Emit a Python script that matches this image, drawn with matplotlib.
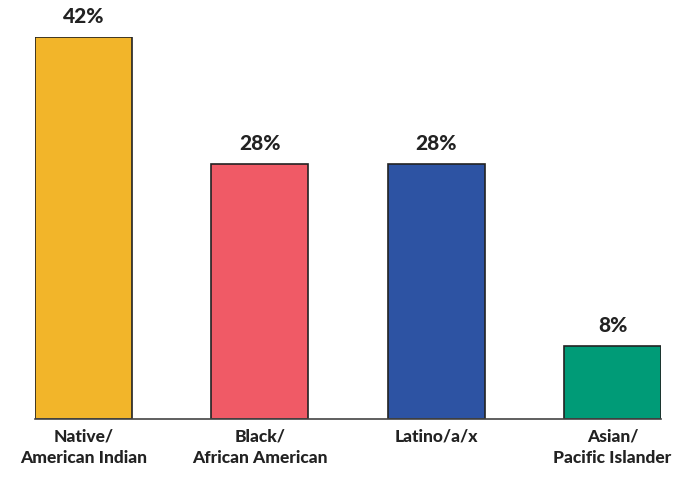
import matplotlib.pyplot as plt

groups = ["Native/\nAmerican Indian", "Black/\nAfrican American", "Latino/a/x", "Asian/\nPacific Islander"]
shares = [42, 28, 28, 8]
colors = ["#F2B52A", "#F05A66", "#2D53A3", "#009B77"]

plt.rcParams["font.family"] = ["Lato", "DejaVu Sans"]

fig = plt.figure(figsize=(6.83, 4.8), dpi=100)
ax = fig.add_axes([35 / 683, 61 / 480, 626 / 683, 382 / 480])

x = range(len(groups))
bars = ax.bar(x, shares, width=0.55, color=colors, edgecolor="#222222", linewidth=1.2)

for b, v in zip(bars, shares):
    ax.annotate(f"{v}%", (b.get_x() + b.get_width() / 2, v), xytext=(0, 8),
                textcoords="offset points", ha="center", va="bottom",
                fontsize=15, fontweight=900, color="#222222", annotation_clip=False)

ax.set_xlim(-0.275, len(groups) - 1 + 0.275)
ax.set_ylim(0, 42)
ax.set_xticks(list(x))
ax.set_xticklabels(groups, fontsize=12.5, fontweight=900, color="#222222", linespacing=1.4)
ax.tick_params(axis="x", length=0, pad=7)
ax.set_yticks([])
for s in ["top", "right", "left"]:
    ax.spines[s].set_visible(False)
ax.spines["bottom"].set_color("#444444")
ax.spines["bottom"].set_linewidth(1.2)

fig.savefig("out.png", dpi=100)
